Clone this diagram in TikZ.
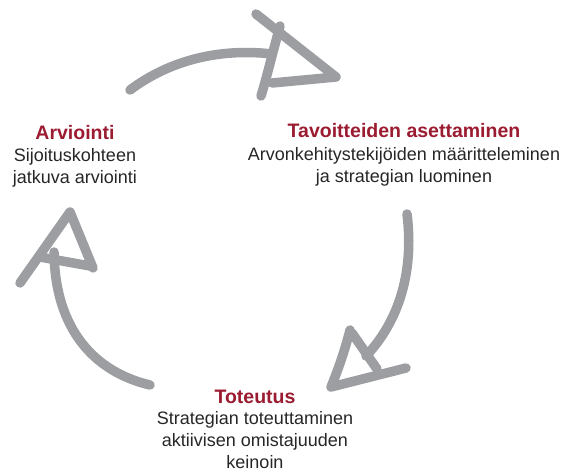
\documentclass[tikz,border=0pt]{standalone}
\usepackage{fontspec}
\setmainfont{Liberation Sans}
\definecolor{stepred}{HTML}{9B1B30}
\definecolor{arrowgrey}{HTML}{9D9EA2}
\begin{document}
\begin{tikzpicture}[x=1pt,y=-1pt,
  sketch/.style={draw=arrowgrey,line width=9.5pt,line cap=round,line join=round},
  heading/.style={font=\fontsize{19.5}{23}\selectfont\bfseries,text=stepred,inner sep=0pt},
  body/.style={font=\fontsize{18}{22}\selectfont,text=black!85,align=center,inner sep=0pt}]
\useasboundingbox (0,0) rectangle (562,473);

% top arrow
\draw[sketch] (130,90) .. controls (170,60) and (220,48) .. (272,54);
\draw[sketch] (256,14) -- (336,77) -- (272,83);
\draw[sketch] (280,26) .. controls (272,55) and (266,80) .. (261,96);

% right arrow
\draw[sketch] (407,214) .. controls (414,270) and (400,320) .. (366,356);
\draw[sketch] (350,330) .. controls (345,350) and (338,370) .. (331,387) -- (406,368);
\draw[sketch] (352,333) -- (377,369);

% left arrow
\draw[sketch] (150,385) .. controls (95,372) and (55,330) .. (54,252);
\draw[sketch] (20,283) -- (70,212) -- (93,268);
\draw[sketch] (40,257) -- (90,266);

% labels
\node[heading] (arvh) at (75,133) {Arviointi};
\node[body,anchor=north] (arvb) at (75,148) {Sijoituskohteen\\jatkuva arviointi};

\node[heading] (tavh) at (404,131) {Tavoitteiden asettaminen};
\node[body,anchor=north] (tavb) at (404,147) {Arvonkehitystekijöiden määritteleminen\\ja strategian luominen};

\node[heading] (toth) at (255,397) {Toteutus};
\node[body,anchor=north] (totb) at (255,411) {Strategian toteuttaminen\\aktiivisen omistajuuden\\keinoin};
\end{tikzpicture}
\end{document}
